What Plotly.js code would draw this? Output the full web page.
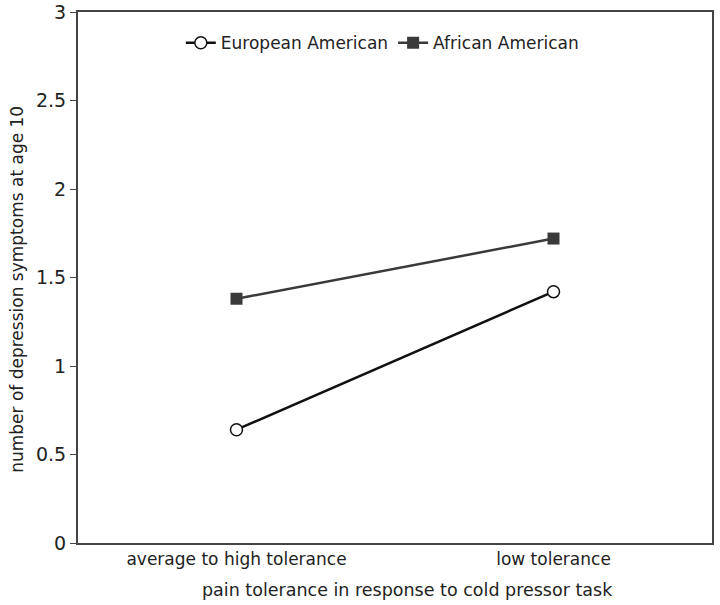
<!DOCTYPE html>
<html>
<head>
<meta charset="utf-8">
<script src="https://cdn.plot.ly/plotly-3.0.1.min.js"></script>
<style>
  html, body { margin: 0; padding: 0; background: #fff; }
  #chart { width: 720px; height: 605px; }
</style>
</head>
<body>
<div id="chart"></div>
<script>
// categories and group means
const categories = ["average to high tolerance", "low tolerance"];
const europeanAmerican = [0.64, 1.42];
const africanAmerican = [1.38, 1.72];
const yTicks = [0, 0.5, 1, 1.5, 2, 2.5, 3];
const xTitle = "pain tolerance in response to cold pressor task";
const yTitle = "number of depression symptoms at age 10";

const fontFamily = "'DejaVu Sans', sans-serif";
const textColor = "#222";

const traces = [
    {
        x: categories,
        y: europeanAmerican,
        name: "European American",
        type: "scatter",
        mode: "lines+markers",
        line: { color: "#111", width: 2.5 },
        marker: { symbol: "circle", size: 12, color: "#fff", line: { color: "#111", width: 1.5 } }
    },
    {
        x: categories,
        y: africanAmerican,
        name: "African American",
        type: "scatter",
        mode: "lines+markers",
        line: { color: "#3a3a3a", width: 2.5 },
        marker: { symbol: "square", size: 12, color: "#3a3a3a" }
    }
];

const layout = {
    width: 720,
    height: 605,
    margin: { l: 78, r: 8, t: 12, b: 62 },
    paper_bgcolor: "#fff",
    plot_bgcolor: "#fff",
    font: { family: fontFamily, size: 17, color: textColor },
    showlegend: true,
    legend: {
        orientation: "h",
        x: 0.48,
        xanchor: "center",
        y: 0.975,
        yanchor: "top",
        bgcolor: "rgba(0,0,0,0)",
        font: { family: fontFamily, size: 17, color: textColor },
        itemwidth: 30,
        tracegroupgap: 0
    },
    xaxis: {
        type: "category",
        range: [-0.5, 1.5],
        showgrid: false,
        zeroline: false,
        showline: true,
        mirror: true,
        linecolor: "#444",
        linewidth: 2,
        ticks: "",
        tickfont: { family: fontFamily, size: 17, color: textColor }
    },
    yaxis: {
        range: [0, 3],
        tickvals: yTicks,
        ticktext: yTicks.map(String),
        showgrid: false,
        zeroline: false,
        showline: true,
        mirror: true,
        linecolor: "#444",
        linewidth: 2,
        ticks: "outside",
        ticklen: 6,
        tickcolor: "#444",
        tickfont: { family: fontFamily, size: 19, color: textColor }
    },
    // axis titles sit a little off-centre in the original, so place them as annotations
    annotations: [
        {
            text: xTitle,
            xref: "paper", yref: "paper",
            x: 0.52, y: -0.088,
            xanchor: "center", yanchor: "middle",
            showarrow: false,
            font: { family: fontFamily, size: 17.5, color: textColor }
        },
        {
            text: yTitle,
            xref: "paper", yref: "paper",
            x: -0.096, y: 0.477,
            xanchor: "center", yanchor: "middle",
            textangle: -90,
            showarrow: false,
            font: { family: fontFamily, size: 17, color: textColor }
        }
    ]
};

Plotly.newPlot("chart", traces, layout, { displayModeBar: false, staticPlot: true });
</script>
</body>
</html>
